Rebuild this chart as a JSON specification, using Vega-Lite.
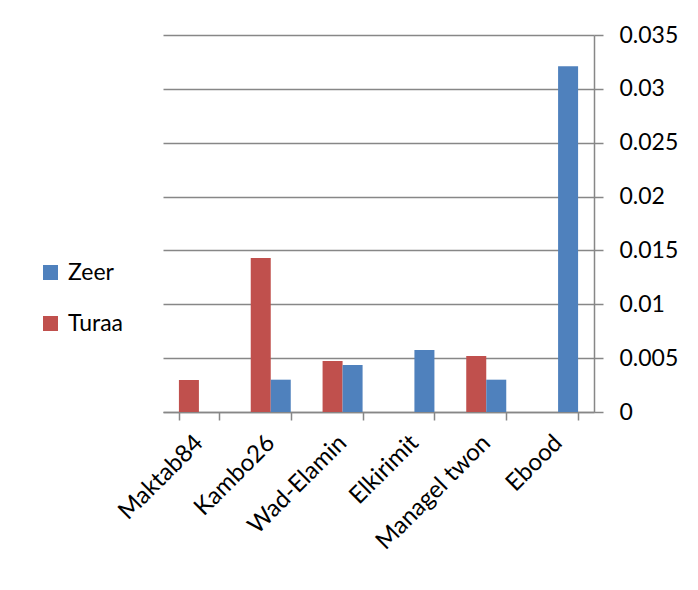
{
  "$schema": "https://vega.github.io/schema/vega-lite/v6.json",
  "autosize": {"type": "none"},
  "width": 431,
  "height": 377,
  "padding": {"left": 163, "top": 35, "right": 104, "bottom": 178},
  "background": "white",
  "config": {
    "view": {"stroke": null},
    "font": "Lato"
  },
  "data": {
    "values": [
      {"site": "Maktab84", "series": "Turaa", "value": 0.00297},
      {"site": "Maktab84", "series": "Zeer", "value": 0},
      {"site": "Kambo26", "series": "Turaa", "value": 0.0143},
      {"site": "Kambo26", "series": "Zeer", "value": 0.003},
      {"site": "Wad-Elamin", "series": "Turaa", "value": 0.00473},
      {"site": "Wad-Elamin", "series": "Zeer", "value": 0.00436},
      {"site": "Elkirimit", "series": "Turaa", "value": 0},
      {"site": "Elkirimit", "series": "Zeer", "value": 0.00576},
      {"site": "Managel twon", "series": "Turaa", "value": 0.0052},
      {"site": "Managel twon", "series": "Zeer", "value": 0.003},
      {"site": "Ebood", "series": "Turaa", "value": 0},
      {"site": "Ebood", "series": "Zeer", "value": 0.0321}
    ]
  },
  "mark": {"type": "bar"},
  "encoding": {
    "x": {
      "field": "site",
      "type": "nominal",
      "sort": null,
      "title": null,
      "scale": {"paddingInner": 0.443, "paddingOuter": 0.2215},
      "axis": {
        "labelAngle": -45,
        "labelAlign": "right",
        "labelBaseline": "middle",
        "labelFontSize": 24,
        "labelColor": "black",
        "labelPadding": 19,
        "tickBand": "extent",
        "tickSize": 8,
        "tickColor": "#878787",
        "tickWidth": 1.5,
        "domainColor": "#878787",
        "domainWidth": 1.5,
        "grid": false
      }
    },
    "xOffset": {
      "field": "series",
      "type": "nominal",
      "scale": {"domain": ["Turaa", "Zeer"], "paddingInner": 0, "paddingOuter": 0}
    },
    "y": {
      "field": "value",
      "type": "quantitative",
      "title": null,
      "scale": {"domain": [0, 0.035], "nice": false},
      "axis": {
        "orient": "right",
        "values": [0, 0.005, 0.01, 0.015, 0.02, 0.025, 0.03, 0.035],
        "labelExpr": "datum.value == 0 ? '0' : format(datum.value, '.3~f')",
        "labelFontSize": 23,
        "labelColor": "black",
        "labelPadding": 16,
        "tickSize": 9,
        "tickColor": "#878787",
        "tickWidth": 1.5,
        "domainColor": "#878787",
        "domainWidth": 1.5,
        "grid": true,
        "gridColor": "#878787",
        "gridWidth": 1.5
      }
    },
    "color": {
      "field": "series",
      "type": "nominal",
      "scale": {"domain": ["Zeer", "Turaa"], "range": ["#4F81BD", "#C0504D"]},
      "legend": {
        "title": null,
        "orient": "none",
        "legendX": -124,
        "legendY": 226,
        "symbolType": "square",
        "symbolSize": 225,
        "symbolStrokeWidth": 0,
        "labelFontSize": 23,
        "labelColor": "black",
        "labelOffset": 6,
        "rowPadding": 27
      }
    }
  }
}
